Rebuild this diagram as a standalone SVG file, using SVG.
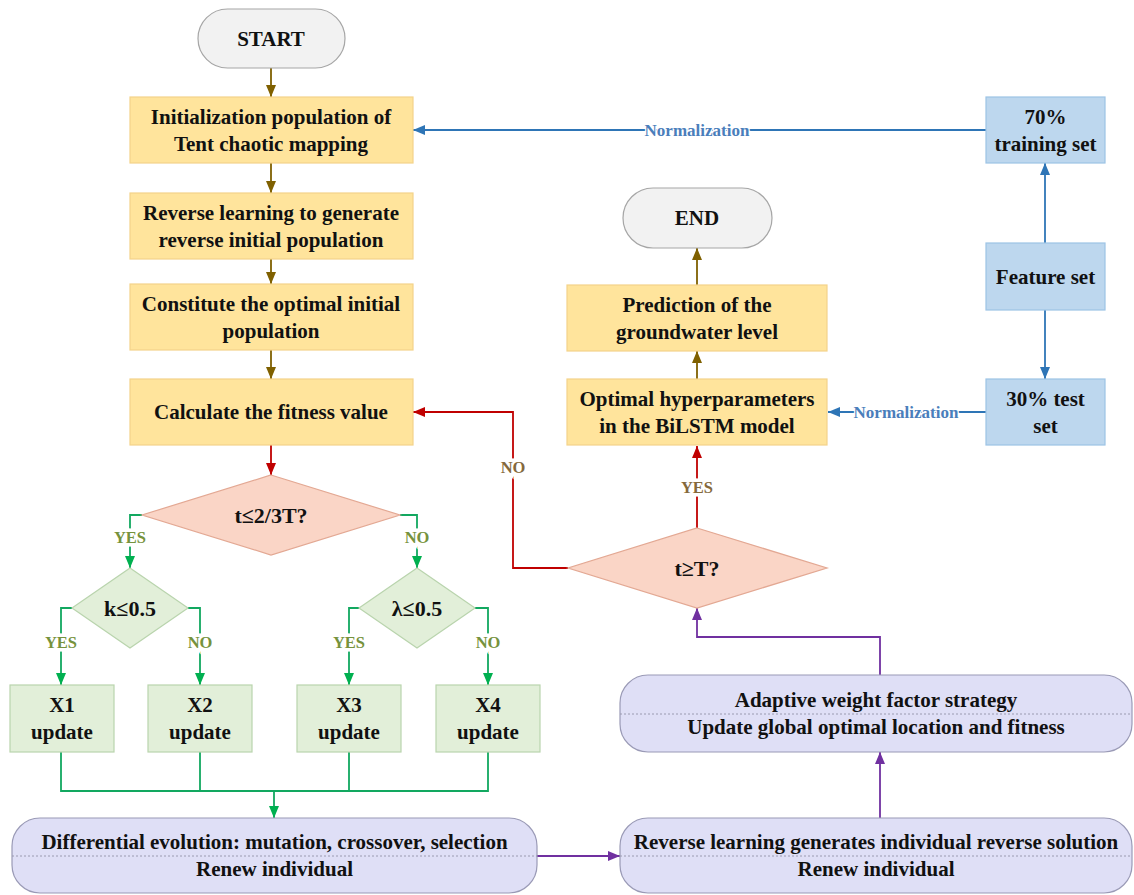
<svg xmlns="http://www.w3.org/2000/svg" width="1134" height="895" viewBox="0 0 1134 895">
<style>
text{font-family:"Liberation Serif","Times New Roman",serif;font-weight:bold;text-anchor:middle;}
.t{font-size:21px;fill:#111;}
.d{font-size:22px;fill:#111;}
.lab{font-size:16.5px;paint-order:stroke;stroke:#fff;stroke-width:7px;}
.lg{fill:#76923c;}
.lr{fill:#85693c;}
.ln{font-size:17px;fill:#4a7ebb;paint-order:stroke;stroke:#fff;stroke-width:2.5px;}
.pill{fill:#f2f2f2;stroke:#a6a6a6;stroke-width:1.2;}
.yel{fill:#ffe49c;stroke:#f3d38a;stroke-width:1.2;}
.pink{fill:#fad5c6;stroke:#e3a893;stroke-width:1.2;}
.grn{fill:#e2efd9;stroke:#b9d4ad;stroke-width:1.2;}
.blu{fill:#bdd7ee;stroke:#9cc3e5;stroke-width:1.2;}
.lav{fill:#dfdff6;stroke:#9a9ab6;stroke-width:1.2;}
.div{stroke:#9a9ab0;stroke-width:1;stroke-dasharray:2,2;fill:none;}
.c{fill:none;stroke-width:1.8;}
.ol{stroke:#7f6000;}
.rd{stroke:#c00000;}
.gr{stroke:#12a860;}
.bl{stroke:#2e75b6;}
.pu{stroke:#7030a0;}
</style>
<defs>
<marker id="mOl" viewBox="0 0 12 10" refX="12" refY="5" markerWidth="12" markerHeight="10" markerUnits="userSpaceOnUse" orient="auto"><path d="M0,0 L12,5 L0,10 z" fill="#7f6000"/></marker>
<marker id="mRd" viewBox="0 0 12 10" refX="12" refY="5" markerWidth="12" markerHeight="10" markerUnits="userSpaceOnUse" orient="auto"><path d="M0,0 L12,5 L0,10 z" fill="#c00000"/></marker>
<marker id="mGr" viewBox="0 0 12 10" refX="12" refY="5" markerWidth="12" markerHeight="10" markerUnits="userSpaceOnUse" orient="auto"><path d="M0,0 L12,5 L0,10 z" fill="#00b050"/></marker>
<marker id="mBl" viewBox="0 0 12 10" refX="12" refY="5" markerWidth="12" markerHeight="10" markerUnits="userSpaceOnUse" orient="auto"><path d="M0,0 L12,5 L0,10 z" fill="#2e75b6"/></marker>
<marker id="mPu" viewBox="0 0 12 10" refX="12" refY="5" markerWidth="12" markerHeight="10" markerUnits="userSpaceOnUse" orient="auto"><path d="M0,0 L12,5 L0,10 z" fill="#7030a0"/></marker>
</defs>
<rect width="1134" height="895" fill="#fff"/>

<g id="connectors">
<path class="c ol" d="M271,68 V97" marker-end="url(#mOl)"/>
<path class="c ol" d="M271,163 V193" marker-end="url(#mOl)"/>
<path class="c ol" d="M271,259 V284" marker-end="url(#mOl)"/>
<path class="c ol" d="M271,350 V379" marker-end="url(#mOl)"/>
<path class="c rd" d="M271,445 V475" marker-end="url(#mRd)"/>
<path class="c gr" d="M142,515 H130 V568" marker-end="url(#mGr)"/>
<path class="c gr" d="M400,515 H417 V568" marker-end="url(#mGr)"/>
<path class="c gr" d="M72,608 H61 V685" marker-end="url(#mGr)"/>
<path class="c gr" d="M188,608 H200 V685" marker-end="url(#mGr)"/>
<path class="c gr" d="M359,608 H349 V685" marker-end="url(#mGr)"/>
<path class="c gr" d="M475,608 H488 V685" marker-end="url(#mGr)"/>
<path class="c gr" d="M61,752 V791 H488 V752 M200,752 V791 M349,752 V791"/>
<path class="c gr" d="M274,791 V818" marker-end="url(#mGr)"/>
<path class="c pu" d="M537,856 H620" marker-end="url(#mPu)"/>
<path class="c pu" d="M880,818 V752" marker-end="url(#mPu)"/>
<path class="c pu" d="M880,675 V637 H697 V608" marker-end="url(#mPu)"/>
<path class="c rd" d="M697,528 V446" marker-end="url(#mRd)"/>
<path class="c rd" d="M568,568 H513 V412 H413" marker-end="url(#mRd)"/>
<path class="c ol" d="M697,379 V351" marker-end="url(#mOl)"/>
<path class="c ol" d="M697,285 V248" marker-end="url(#mOl)"/>
<path class="c bl" d="M1045,243 V163" marker-end="url(#mBl)"/>
<path class="c bl" d="M1045,310 V379" marker-end="url(#mBl)"/>
<path class="c bl" d="M986,130 H413" marker-end="url(#mBl)"/>
<path class="c bl" d="M986,412 H828" marker-end="url(#mBl)"/>
<text class="lab lg" x="130" y="542.5">YES</text>
<text class="lab lg" x="417" y="542.5">NO</text>
<text class="lab lg" x="61" y="647.5">YES</text>
<text class="lab lg" x="200" y="647.5">NO</text>
<text class="lab lg" x="349" y="647.5">YES</text>
<text class="lab lg" x="488" y="647.5">NO</text>
<text class="lab lr" x="697" y="492.5">YES</text>
<text class="lab lr" x="513" y="472.5">NO</text>
<text class="ln" x="697" y="136">Normalization</text>
<text class="ln" x="906" y="418">Normalization</text>
</g>

<g id="start"><rect class="pill" x="198" y="9" width="147" height="59" rx="29.5"/><text class="t" x="271" y="45.5">START</text></g>
<g id="init"><rect class="yel" x="130" y="97" width="283" height="66"/><text class="t" x="271" y="123.5">Initialization population of</text><text class="t" x="271" y="150.5">Tent chaotic mapping</text></g>
<g id="reverse-init"><rect class="yel" x="130" y="193" width="283" height="66"/><text class="t" x="271" y="219.5">Reverse learning to generate</text><text class="t" x="271" y="246.5">reverse initial population</text></g>
<g id="constitute"><rect class="yel" x="130" y="284" width="283" height="66"/><text class="t" x="271" y="310.5">Constitute the optimal initial</text><text class="t" x="271" y="337.5">population</text></g>
<g id="fitness"><rect class="yel" x="130" y="379" width="283" height="66"/><text class="t" x="271" y="419">Calculate the fitness value</text></g>
<g id="dec-t23"><path class="pink" d="M271,475 L400,515 L271,555 L142,515 Z"/><text class="d" x="271" y="522.5">t≤2/3T?</text></g>
<g id="dec-k"><path class="grn" d="M130,568 L188,608 L130,648 L72,608 Z"/><text class="d" x="130" y="615.5">k≤0.5</text></g>
<g id="dec-l"><path class="grn" d="M417,568 L475,608 L417,648 L359,608 Z"/><text class="d" x="417" y="615.5">λ≤0.5</text></g>
<g id="x1"><rect class="grn" x="10" y="685" width="104" height="67"/><text class="t" x="62" y="712">X1</text><text class="t" x="62" y="739">update</text></g>
<g id="x2"><rect class="grn" x="148" y="685" width="104" height="67"/><text class="t" x="200" y="712">X2</text><text class="t" x="200" y="739">update</text></g>
<g id="x3"><rect class="grn" x="297" y="685" width="104" height="67"/><text class="t" x="349" y="712">X3</text><text class="t" x="349" y="739">update</text></g>
<g id="x4"><rect class="grn" x="436" y="685" width="104" height="67"/><text class="t" x="488" y="712">X4</text><text class="t" x="488" y="739">update</text></g>
<g id="de"><rect class="lav" x="12" y="818" width="525" height="75" rx="28"/><line class="div" x1="12" y1="856" x2="537" y2="856"/><text class="t" x="274.5" y="849">Differential evolution: mutation, crossover, selection</text><text class="t" x="274.5" y="876">Renew individual</text></g>
<g id="rev-sol"><rect class="lav" x="620" y="818" width="512" height="75" rx="28"/><line class="div" x1="620" y1="856" x2="1132" y2="856"/><text class="t" x="876" y="849">Reverse learning generates individual reverse solution</text><text class="t" x="876" y="876">Renew individual</text></g>
<g id="adaptive"><rect class="lav" x="620" y="675" width="512" height="77" rx="28"/><line class="div" x1="620" y1="714" x2="1132" y2="714"/><text class="t" x="876" y="707">Adaptive weight factor strategy</text><text class="t" x="876" y="734">Update global optimal location and fitness</text></g>
<g id="dec-tT"><path class="pink" d="M697,528 L827,568 L697,608 L568,568 Z"/><text class="d" x="697" y="575.5">t≥T?</text></g>
<g id="optimal"><rect class="yel" x="567" y="379" width="260" height="66"/><text class="t" x="697" y="405.5">Optimal hyperparameters</text><text class="t" x="697" y="432.5">in the BiLSTM model</text></g>
<g id="prediction"><rect class="yel" x="567" y="285" width="260" height="66"/><text class="t" x="697" y="311.5">Prediction of the</text><text class="t" x="697" y="338.5">groundwater level</text></g>
<g id="end"><rect class="pill" x="623" y="188" width="149" height="60" rx="30"/><text class="t" x="697" y="225">END</text></g>
<g id="train"><rect class="blu" x="986" y="97" width="119" height="66"/><text class="t" x="1045.5" y="123.5">70%</text><text class="t" x="1045.5" y="150.5">training set</text></g>
<g id="feature"><rect class="blu" x="986" y="243" width="119" height="67"/><text class="t" x="1045.5" y="283.5">Feature set</text></g>
<g id="test"><rect class="blu" x="986" y="379" width="119" height="66"/><text class="t" x="1045.5" y="405.5">30% test</text><text class="t" x="1045.5" y="432.5">set</text></g>
</svg>
